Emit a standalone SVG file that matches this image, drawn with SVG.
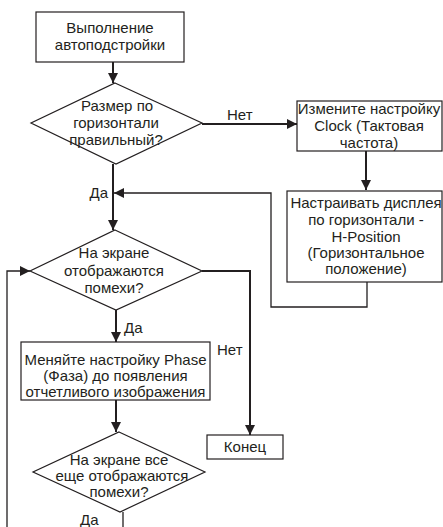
<svg xmlns="http://www.w3.org/2000/svg" width="443" height="527" viewBox="0 0 443 527">
<defs>
<style>
.n{fill:#fff;stroke:#231f20;stroke-width:1.2}
.t{font-family:"Liberation Sans",Arial,sans-serif;font-size:15px;fill:#231f20;text-anchor:middle}
.l{font-family:"Liberation Sans",Arial,sans-serif;font-size:15px;fill:#231f20}
.th{fill:none;stroke:#231f20;stroke-width:2}
.tn{fill:none;stroke:#231f20;stroke-width:1.3}
</style>
<marker id="ah" viewBox="0 0 10 10" refX="10" refY="5" markerWidth="10" markerHeight="10" markerUnits="userSpaceOnUse" orient="auto">
<path d="M0,0 L10,5 L0,10 z" fill="#231f20"/>
</marker>
</defs>
<rect width="443" height="527" fill="#fff"/>
<g id="connectors">
<path class="th" d="M113,62 V83" marker-end="url(#ah)"/>
<path class="th" d="M202,124 H297" marker-end="url(#ah)"/>
<path class="th" d="M366,151 V190" marker-end="url(#ah)"/>
<path class="tn" d="M367,282 V307 H271 V193 H114" marker-end="url(#ah)"/>
<path class="th" d="M113,164 V230" marker-end="url(#ah)"/>
<path class="th" d="M116,310 V342" marker-end="url(#ah)"/>
<path class="th" d="M202,271 H250 V435" marker-end="url(#ah)"/>
<path class="th" d="M116,400 V432" marker-end="url(#ah)"/>
<path class="tn" d="M123,512 V527"/>
<path class="tn" d="M7,527 V271 H30" marker-end="url(#ah)"/>
<text class="l" x="227" y="120">Нет</text>
<text class="l" x="108" y="198" text-anchor="end">Да</text>
<text class="l" x="124" y="333">Да</text>
<text class="l" x="217" y="355">Нет</text>
<text class="l" x="80" y="525">Да</text>
</g>
<g id="start">
<rect class="n" x="36" y="12" width="148" height="50"/>
<text class="t" x="110" y="33">Выполнение</text>
<text class="t" x="110" y="50">автоподстройки</text>
</g>
<g id="d1">
<polygon class="n" points="115,83 202,123 116,164 31,123"/>
<text class="t" x="117" y="111">Размер по</text>
<text class="t" x="116" y="128">горизонтали</text>
<text class="t" x="116" y="145">правильный?</text>
</g>
<g id="clock">
<rect class="n" x="297" y="101" width="145" height="50"/>
<text class="t" x="369" y="114">Измените настройку</text>
<text class="t" x="369" y="131">Clock (Тактовая</text>
<text class="t" x="369" y="148">частота)</text>
</g>
<g id="hpos">
<rect class="n" x="287" y="191" width="155" height="91"/>
<text class="t" x="366" y="208">Настраивать дисплея</text>
<text class="t" x="366" y="225">по горизонтали -</text>
<text class="t" x="366" y="242">H-Position</text>
<text class="t" x="366" y="258">(Горизонтальное</text>
<text class="t" x="366" y="274">положение)</text>
</g>
<g id="d2">
<polygon class="n" points="115,230 202,271 116,310 30,271"/>
<text class="t" x="114" y="258">На экране</text>
<text class="t" x="114" y="276">отображаются</text>
<text class="t" x="114" y="293">помехи?</text>
</g>
<g id="phase">
<rect class="n" x="21" y="342" width="189" height="58"/>
<text class="t" x="115.5" y="365">Меняйте настройку Phase</text>
<text class="t" x="115.5" y="381">(Фаза) до появления</text>
<text class="t" x="115.5" y="397">отчетливого изображения</text>
</g>
<g id="end">
<rect class="n" x="207" y="435" width="76" height="24"/>
<text class="t" x="245" y="452">Конец</text>
</g>
<g id="d3">
<polygon class="n" points="119,432 205,472 120,512 33,472"/>
<text class="t" x="119" y="465">На экране все</text>
<text class="t" x="122" y="481">еще отображаются</text>
<text class="t" x="119" y="497">помехи?</text>
</g>
</svg>
